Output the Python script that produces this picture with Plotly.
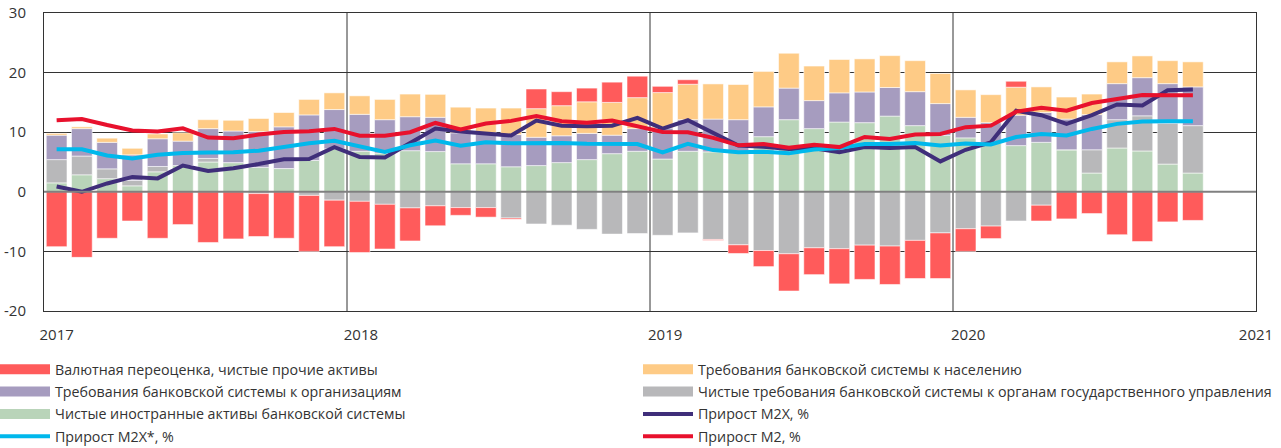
import plotly.graph_objects as go

# Months: Jan 2017 ... Oct 2020
months = [f"{y}-{m:02d}" for y in range(2017, 2021) for m in range(1, 13)][:46]

# Stacked contributions (percentage points)
foreign = [1.5, 2.85, 2.2, 1.0, 3.35, 4.4, 5.0, 4.9, 4.1, 3.9, 5.25, 7.2, 6.8, 6.5, 6.9, 6.75,
           4.7, 4.7, 4.2, 4.4, 4.9, 5.4, 6.4, 6.8, 5.5, 6.8, 6.7, 6.8, 9.25, 12.1, 10.6, 11.7,
           11.6, 12.7, 11.1, 9.45, 9.05, 8.2, 7.75, 8.3, 7.05, 3.15, 7.35, 6.85, 4.65, 3.15]
government = [3.9, 3.15, 1.65, 0.9, 0.9, 0.0, 0.6, 0.0, -0.3, 0.0, -0.6, -1.4, -1.6, -2.1, -2.7, -2.35,
              -2.65, -2.65, -4.4, -5.4, -5.6, -6.3, -7.1, -7.0, -7.3, -6.9, -8.0, -8.9, -9.85, -10.4, -9.4, -9.55,
              -8.95, -9.1, -8.15, -6.9, -6.2, -5.75, -4.9, -2.25, 0.0, 3.9, 4.75, 5.9, 6.85, 7.95]
organizations = [4.1, 4.6, 4.45, 4.3, 4.65, 4.1, 5.0, 5.3, 6.0, 7.0, 7.65, 6.6, 6.2, 5.6, 5.7, 5.75,
                 5.2, 5.2, 5.4, 4.75, 4.5, 4.4, 3.1, 3.8, 5.2, 5.3, 5.5, 5.3, 5.0, 5.3, 4.7, 4.9,
                 5.15, 4.8, 5.7, 5.35, 3.45, 3.4, 5.1, 5.0, 5.15, 5.9, 6.05, 6.4, 6.65, 6.5]
households = [0.3, 0.3, 0.7, 1.1, 0.8, 1.4, 1.5, 1.8, 2.2, 2.4, 2.6, 2.8, 3.1, 3.4, 3.8, 3.85,
              4.3, 4.15, 4.45, 4.8, 5.05, 5.3, 5.5, 5.2, 5.95, 5.95, 5.9, 5.9, 5.95, 5.85, 5.8, 5.6,
              5.55, 5.35, 5.2, 5.05, 4.6, 4.7, 4.7, 4.3, 3.7, 3.45, 3.65, 3.65, 3.85, 4.2]
revaluation = [-9.2, -11.0, -7.8, -4.9, -7.8, -5.5, -8.5, -7.9, -7.2, -7.8, -9.4, -7.8, -8.6, -7.5, -5.55, -3.35,
               -1.3, -1.6, -0.2, 3.3, 2.35, 2.3, 3.4, 3.6, 1.05, 0.75, -0.15, -1.45, -2.7, -6.25, -4.5, -5.9,
               -5.75, -6.45, -6.4, -7.65, -3.8, -2.1, 1.0, -2.65, -4.55, -3.65, -7.2, -8.35, -5.05, -4.8]

# Growth rates, %
m2x = [0.9, 0.0, 1.4, 2.5, 2.25, 4.4, 3.5, 3.95, 4.65, 5.45, 5.5, 7.5, 5.85, 5.75, 8.2, 10.6,
       10.1, 9.8, 9.45, 11.95, 11.1, 11.0, 11.1, 12.4, 10.6, 12.0, 9.9, 7.75, 7.55, 7.2, 7.3, 6.65,
       7.5, 7.35, 7.5, 5.1, 7.05, 8.3, 13.6, 12.85, 11.4, 12.85, 14.65, 14.5, 17.05, 17.15]
m2x_star = [7.15, 7.15, 6.1, 5.6, 6.2, 6.5, 6.6, 6.65, 6.9, 7.5, 8.15, 8.55, 7.6, 6.7, 7.8, 8.6,
            7.75, 8.3, 8.15, 8.2, 8.2, 8.05, 8.05, 8.0, 6.6, 8.05, 7.0, 6.65, 6.7, 6.45, 7.1, 7.35,
            8.0, 8.0, 8.2, 7.75, 8.1, 7.95, 9.2, 9.7, 9.45, 10.55, 11.4, 11.8, 11.85, 11.85]
m2 = [12.0, 12.2, 11.2, 10.3, 10.1, 10.65, 9.1, 9.0, 9.6, 10.05, 10.15, 10.55, 9.4, 9.4, 10.0, 11.55,
      10.45, 11.45, 11.9, 12.7, 11.85, 11.6, 11.95, 11.0, 10.05, 10.0, 9.05, 7.8, 8.0, 7.4, 7.9, 7.5,
      9.2, 8.85, 9.6, 9.7, 10.85, 11.1, 13.45, 14.1, 13.6, 14.9, 15.6, 16.25, 16.2, 16.2]

year_labels = ["2017", "2018", "2019", "2020", "2021"]
y_ticks = [-20, -10, 0, 10, 20, 30]
y_labels = ["-20", "-10", "0", "10", "20", "30"]

names = {
    "reval": "Валютная переоценка, чистые прочие активы",
    "hh": "Требования банковской системы к населению",
    "org": "Требования банковской системы к организациям",
    "gov": "Чистые требования банковской системы к органам государственного управления",
    "fx": "Чистые иностранные активы банковской системы",
    "m2x": "Прирост M2X, %",
    "m2xs": "Прирост M2X*, %",
    "m2": "Прирост M2, %",
}
colors = {
    "reval": "#FF5B5B", "hh": "#FECB86", "org": "#A69CBF", "gov": "#B8B8BA",
    "fx": "#B9D4B9", "m2x": "#3F2E7A", "m2xs": "#00B8EC", "m2": "#E8112D",
}

# month slot centres on a numeric axis (one unit per month)
xpos = [i + 0.5 for i in range(len(months))]

fig = go.Figure()
for key, vals in [("fx", foreign), ("gov", government), ("org", organizations),
                  ("hh", households), ("reval", revaluation)]:
    fig.add_trace(go.Bar(x=xpos, y=vals, name=names[key], width=0.82,
                         marker=dict(color=colors[key], line=dict(color="rgba(255,255,255,0.55)", width=1)),
                         showlegend=False, customdata=months))

# legend swatches for the bar series (wide rectangles)
legend_of = {"reval": "legend", "org": "legend", "fx": "legend", "m2xs": "legend",
             "hh": "legend2", "gov": "legend2", "m2x": "legend2", "m2": "legend2"}
for key in ["reval", "hh", "org", "gov", "fx"]:
    fig.add_trace(go.Scatter(x=[None], y=[None], mode="lines", name=names[key],
                             line=dict(color=colors[key], width=10), legend=legend_of[key],
                             legendgroup=key))

for key, vals in [("m2x", m2x), ("m2xs", m2x_star), ("m2", m2)]:
    fig.add_trace(go.Scatter(x=xpos, y=vals, mode="lines", name=names[key],
                             line=dict(color=colors[key], width=4), legend=legend_of[key],
                             legendgroup=key))

font = dict(family="Open Sans", size=15, color="#333333")
legend_common = dict(xref="paper", yref="container", yanchor="top", xanchor="left",
                     orientation="v", itemwidth=50, bgcolor="rgba(0,0,0,0)",
                     font=dict(family="Open Sans", size=14.25, color="#333333"),
                     tracegroupgap=0.8)

fig.update_layout(
    width=1281, height=448,
    margin=dict(l=44, r=25, t=13, b=137, autoexpand=False),
    paper_bgcolor="white", plot_bgcolor="white",
    barmode="relative", bargap=0.18,
    font=font,
    legend=dict(x=-49 / 1212, y=0.211, **legend_common),
    legend2=dict(x=594 / 1212, y=0.211, **legend_common),
    xaxis=dict(range=[0, 48], tickvals=[0.5, 12.55, 24.6, 36.6, 48], ticktext=year_labels,
               showgrid=False, zeroline=False, showline=True, mirror=True,
               linecolor="#333333", linewidth=1, ticks="", ticklabelstandoff=10,
               tickfont=font),
    yaxis=dict(range=[-20, 30], tickvals=y_ticks, ticktext=y_labels,
               showgrid=True, gridcolor="#333333", gridwidth=1, zeroline=False,
               showline=True, mirror=True, linecolor="#333333", linewidth=1,
               ticks="", ticklabelstandoff=14, tickfont=font),
    shapes=[
        *[dict(type="line", xref="x", yref="paper", x0=v, x1=v, y0=0, y1=1,
               line=dict(color="#333333", width=1), layer="below") for v in (12, 24, 36)],
        dict(type="line", xref="paper", yref="y", x0=0, x1=1, y0=0, y1=0,
             line=dict(color="#808080", width=2), layer="above"),
    ],
)

fig.write_html("out.html", config={"displayModeBar": False},
               post_script="document.body.style.margin='0px';")
